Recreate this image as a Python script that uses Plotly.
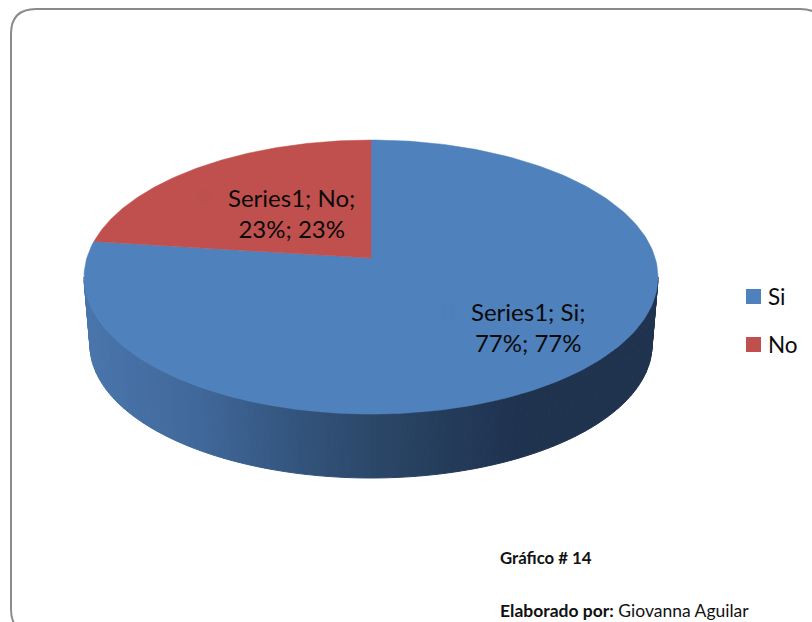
import numpy as np
import plotly.graph_objects as go

categories = ["Si", "No"]
values = [77, 23]
series_name = "Series1"
colors = ["#4f81bd", "#c0504d"]

W, H = 812, 622
FONT = "Lato"
cx, apex_y = 371, 258
k, A, B = 0.139, 134.4, 284.2


def face(theta):
    """Clockwise angle from 12 o'clock on the pie -> page position (perspective)."""
    xx, yy = np.sin(theta), np.cos(theta)
    d = 1 + k * yy
    return cx + B * xx / d, apex_y - A * yy / d


def hex2rgb(h):
    return np.array([int(h[i:i + 2], 16) for i in (1, 3, 5)], float)


wall_x = [84, 200, 300, 371, 450, 520, 658]
wall_c = ["#4a76ad", "#41689a", "#33547c", "#2c4869", "#243c5a", "#1f3350", "#1f344f"]
wall_rgb = np.array([hex2rgb(c) for c in wall_c])


def wall_color(x):
    r = [np.interp(x, wall_x, wall_rgb[:, i]) for i in range(3)]
    return "rgb(%d,%d,%d)" % tuple(r)


fig = go.Figure()

# side wall
ts = np.radians(np.linspace(-90, 90, 121))
for t0, t1 in zip(ts[:-1], ts[1:]):
    tt = np.array([t0, t1])
    xt = 371 + 287 * np.sin(tt)
    yt = 277 + 137 * np.cos(tt)
    xb = 371 + 281 * np.sin(tt)
    yb = 345 + 133 * np.cos(tt)
    c = wall_color(xt.mean())
    fig.add_trace(go.Scatter(
        x=[xt[0], xt[1], xb[1], xb[0], xt[0]],
        y=[yt[0], yt[1], yb[1], yb[0], yt[0]],
        mode="lines", fill="toself", fillcolor=c, line=dict(color=c, width=1),
        hoverinfo="skip", showlegend=False))

# top face slices
total = sum(values)
start = 0.0
for cat, v, col in zip(categories, values, colors):
    sweep = 2 * np.pi * v / total
    th = np.linspace(start, start + sweep, 240)
    ax, ay = face(th)
    fig.add_trace(go.Scatter(
        x=[cx, *ax, cx], y=[apex_y, *ay, apex_y],
        mode="lines", fill="toself", fillcolor=col, line=dict(color=col, width=0.5),
        name=cat, hoverinfo="skip", showlegend=False))
    start += sweep

label_centers = [(528, 327), (291, 213)]
label_keys = [(441, 305), (198, 190)]
legend_rows = [296.5, 344.5]

anns = []
shapes = []
for cat, v, col, (lx, ly), (kx, ky), row in zip(
        categories, values, colors, label_centers, label_keys, legend_rows):
    anns.append(dict(
        x=lx, y=ly, xref="x", yref="y", showarrow=False, xanchor="center", yanchor="middle",
        align="center", font=dict(family=FONT, size=24, color="#0a0a0a"),
        text=f"{series_name}; {cat};<br>{v}%; {v}%"))
    # faint legend key inside the data label
    shapes.append(dict(type="rect", xref="x", yref="y", x0=kx, x1=kx + 14, y0=ky, y1=ky + 14,
                       fillcolor="rgba(0,0,0,0.012)", line=dict(width=0), layer="above"))
    # legend
    shapes.append(dict(type="rect", xref="x", yref="y", x0=746, x1=761, y0=row - 7.5, y1=row + 7.5,
                       fillcolor=col, line=dict(width=0), layer="above"))
    anns.append(dict(x=766, y=row, xref="x", yref="y", showarrow=False, xanchor="left", yanchor="middle",
                     font=dict(family=FONT, size=22.5, color="#0a0a0a"), text=cat))

anns.append(dict(x=498, y=557, xref="x", yref="y", showarrow=False, xanchor="left", yanchor="middle",
                 font=dict(family=FONT, size=16.8, color="#111111"), text="<b>Gráfico # 14</b>"))
anns.append(dict(x=498, y=610, xref="x", yref="y", showarrow=False, xanchor="left", yanchor="middle",
                 font=dict(family=FONT, size=17.5, color="#111111"),
                 text="<b>Elaborado por:</b> Giovanna Aguilar"))

shapes.append(dict(type="path", xref="x", yref="y", layer="above",
                   path="M 36 9 L 800 9 Q 825 9 825 34 L 825 609 Q 825 634 800 634 "
                        "L 36 634 Q 11 634 11 609 L 11 34 Q 11 9 36 9 Z",
                   line=dict(color="#8a8a8a", width=2)))

fig.update_layout(
    width=W, height=H, autosize=False,
    margin=dict(l=0, r=0, t=0, b=0, pad=0),
    paper_bgcolor="white", plot_bgcolor="white",
    xaxis=dict(range=[0, W], visible=False, fixedrange=True),
    yaxis=dict(range=[H, 0], visible=False, fixedrange=True),
    annotations=anns,
    shapes=shapes,
    showlegend=False,
)

fig.write_html("out.html", config=dict(displayModeBar=False),
               post_script="document.body.style.margin='0';document.body.style.overflow='hidden';")
